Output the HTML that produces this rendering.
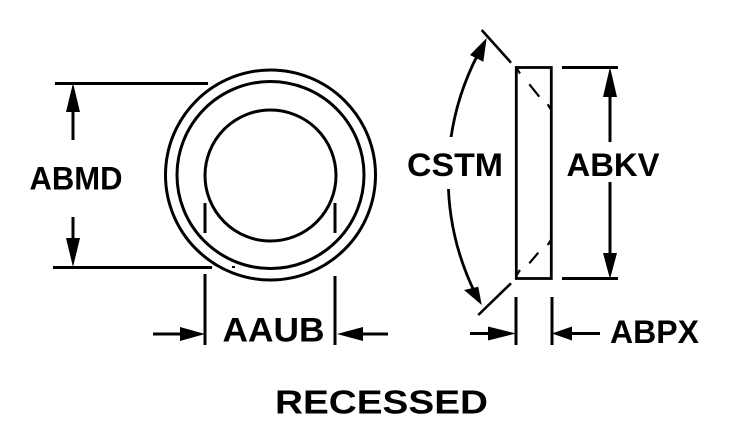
<!DOCTYPE html>
<html>
<head>
<meta charset="utf-8">
<style>
html,body{margin:0;padding:0;background:#fff;}
svg{display:block;}
text{font-family:"Liberation Sans",Arial,sans-serif;font-weight:bold;fill:#000;}
</style>
</head>
<body>
<svg width="729" height="447" viewBox="0 0 729 447" xmlns="http://www.w3.org/2000/svg">
<g fill="none" stroke="#000" stroke-width="3">
  <circle cx="270.5" cy="175" r="105"/>
  <circle cx="270.5" cy="175" r="93.5"/>
  <circle cx="270.5" cy="175.5" r="65.5"/>
  <line x1="205" y1="203" x2="205" y2="233"/>
  <line x1="335" y1="203" x2="335" y2="233"/>
  <line x1="205" y1="274" x2="205" y2="345"/>
  <line x1="335" y1="276" x2="335" y2="345"/>
  <line x1="55" y1="83.5" x2="208" y2="83.5"/>
  <line x1="53" y1="267.5" x2="212" y2="267.5"/>
  <line x1="73" y1="110" x2="73" y2="140"/>
  <line x1="73" y1="217" x2="73" y2="240"/>
  <line x1="153" y1="334" x2="182" y2="334"/>
  <line x1="361" y1="334" x2="388" y2="334"/>
  <line x1="562" y1="67.5" x2="618" y2="67.5"/>
  <line x1="562" y1="278.5" x2="618" y2="278.5"/>
  <line x1="610" y1="95" x2="610" y2="142"/>
  <line x1="610" y1="182" x2="610" y2="255"/>
  <line x1="516" y1="297" x2="516" y2="345"/>
  <line x1="552" y1="297" x2="552" y2="345"/>
  <line x1="470" y1="333.5" x2="490" y2="333.5"/>
  <line x1="570" y1="333.5" x2="600" y2="333.5"/>
  <rect x="516.3" y="67.5" width="35" height="211" stroke-width="2.8"/>
  <line x1="481.7" y1="30" x2="511" y2="62.7" stroke-width="2.6"/>
  <line x1="478.3" y1="315" x2="511" y2="283.3" stroke-width="2.6"/>
  <path d="M 483 45 A 266 266 0 0 0 476 295" stroke-width="2.8"/>
</g>
<g stroke="#000" stroke-width="2.2" fill="none">
  <line x1="516.5" y1="68" x2="520" y2="73.5"/>
  <line x1="529.3" y1="84.3" x2="539.3" y2="96.7"/>
  <line x1="547.7" y1="104.3" x2="551" y2="109.5"/>
  <line x1="529.3" y1="263.3" x2="538.3" y2="252.7"/>
  <line x1="547.7" y1="245" x2="551" y2="240"/>
  <line x1="516.7" y1="275" x2="520" y2="270"/>
</g>
<rect x="440" y="137" width="25" height="52" fill="#fff"/>
<g fill="#000" stroke="none">
  <polygon points="73,83 66,112 80,112"/>
  <polygon points="73,267 66,238 80,238"/>
  <polygon points="205,334 180,327 180,341"/>
  <polygon points="337,334 363,327 363,341"/>
  <polygon points="610,67 603,97 617,97"/>
  <polygon points="610,279 603,253 617,253"/>
  <polygon points="516,333.5 488,326.5 488,340.5"/>
  <polygon points="552,333.5 572,326.5 572,340.5"/>
  <polygon points="486.7,38 470,55 483.3,61.7"/>
  <polygon points="481.7,305 464,290 478.3,286.7"/>
  <rect x="232" y="266" width="3" height="2"/>
</g>
<text x="29.5" y="189.5" font-size="32" textLength="93" lengthAdjust="spacingAndGlyphs">ABMD</text>
<text x="222.5" y="341.7" font-size="34" textLength="102" lengthAdjust="spacingAndGlyphs">AAUB</text>
<text x="407" y="176" font-size="32" textLength="96" lengthAdjust="spacingAndGlyphs">CSTM</text>
<text x="566.5" y="176" font-size="32" textLength="93" lengthAdjust="spacingAndGlyphs">ABKV</text>
<text x="610" y="343" font-size="32" textLength="89" lengthAdjust="spacingAndGlyphs">ABPX</text>
<text x="275" y="413.3" font-size="33" textLength="213" lengthAdjust="spacingAndGlyphs">RECESSED</text>
</svg>
</body>
</html>
